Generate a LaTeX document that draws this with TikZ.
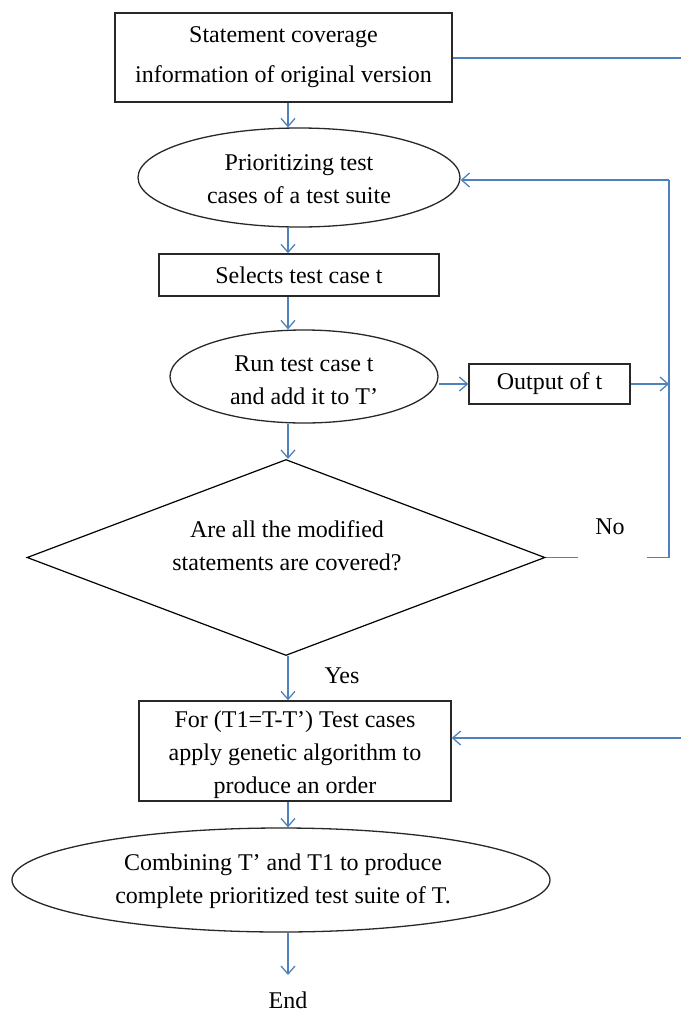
\documentclass[tikz,border=0pt]{standalone}
\usepackage{fontspec}
\setmainfont{Liberation Serif}
\usetikzlibrary{shapes.geometric,arrows.meta}
\definecolor{conn}{RGB}{79,129,189}
\definecolor{edge}{RGB}{40,40,40}
\tikzset{
  every node/.style={font=\fontsize{24}{33}\selectfont},
  boxnode/.style={draw=edge, line width=1.4pt, rectangle, inner sep=0pt, align=center},
  ellnode/.style={draw=edge, line width=1.3pt, ellipse, inner sep=0pt},
  dianode/.style={draw=black, line width=1.2pt, diamond, inner sep=0pt},
  txt/.style={align=center, inner sep=0pt},
  arr/.style={draw=conn, line width=1.3pt, -{Straight Barb[length=8pt,width=14pt,line width=1.3pt]}},
  ln/.style={draw=conn, line width=1.3pt},
}
\begin{document}
\begin{tikzpicture}[x=1pt,y=-1pt]
\useasboundingbox (0,0) rectangle (681,1015);
% nodes
\node[boxnode, minimum width=337pt, minimum height=89pt, font=\fontsize{24}{40}\selectfont] (b1) at (283.5,57.5) {Statement coverage\\information of original version};
\node[ellnode, minimum width=322pt, minimum height=99pt] (e1) at (299,177.5) {};
\node[txt] (t1) at (299,179.5) {Prioritizing test\\cases of a test suite};
\node[boxnode, minimum width=280pt, minimum height=42pt] (b2) at (299,275) {Selects test case t};
\node[ellnode, minimum width=268pt, minimum height=93pt] (e3) at (304,376.5) {};
\node[txt] (t3) at (304,380) {Run test case t\\and add it to T’};
\node[boxnode, minimum width=161pt, minimum height=40pt] (out) at (549.5,384) {Output of t};
\node[dianode, minimum width=518pt, minimum height=196pt] (d) at (286,557.5) {};
\node[txt] (td) at (287,546) {Are all the modified\\statements are covered?};
\node[boxnode, minimum width=312pt, minimum height=100pt] (b4) at (295,751) {};
\node[txt] (t4) at (295,755) {For (T1=T-T’) Test cases\\apply genetic algorithm to\\produce an order};
\node[ellnode, minimum width=538pt, minimum height=104pt] (e5) at (281,880) {};
\node[txt] (t5) at (283,881.5) {Combining T’ and T1 to produce\\complete prioritized test suite of T.};
\node[txt] (no) at (610,527) {No};
\node[txt] (yes) at (342,676) {Yes};
\node[txt, anchor=base, text depth=0pt] (end) at (288,1008) {End};
% coordinates
\coordinate (ax) at (288,0);
\coordinate (tr) at (681,58);
\coordinate (br) at (681,738);
\coordinate (rl) at (669,180);
\coordinate (g1) at (578,557.5);
\coordinate (g2) at (647,557.5);
\coordinate (rb) at (669,557.5);
\coordinate (endtop) at (288,975);
% connectors
\draw[ln] (b1.east |- tr) -- (tr);
\draw[arr] (b1.south -| ax) -- (e1.north -| ax);
\draw[arr] (e1.south -| ax) -- (b2.north -| ax);
\draw[arr] (b2.south -| ax) -- (e3.north -| ax);
\draw[arr] (e3.south -| ax) -- (d.north -| ax);
\draw[arr] (out.west -| e3.east) -- (out.west);
\draw[arr] (out.east) -- (out.east -| rl);
\draw[ln] (d.east) -- (g1);
\draw[ln] (g2) -- (rb) -- (rl);
\draw[arr] (rl) -- (rl -| e1.east);
\draw[arr] (d.south -| ax) -- (b4.north -| ax);
\draw[arr] (br) -- (br -| b4.east);
\draw[arr] (b4.south -| ax) -- (e5.north -| ax);
\draw[arr] (e5.south -| ax) -- (endtop);
\end{tikzpicture}
\end{document}
